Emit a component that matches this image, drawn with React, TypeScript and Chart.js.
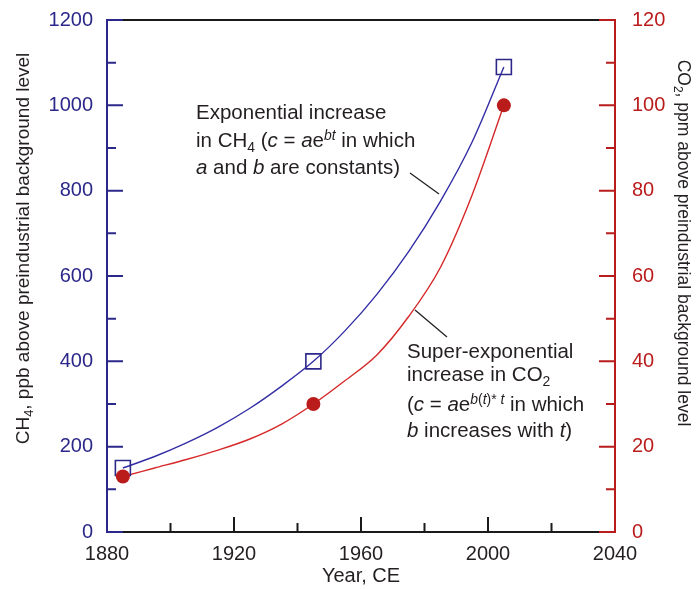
import React, { useEffect, useRef } from 'react';
import { Chart, registerables } from 'chart.js';
Chart.register(...registerables);

const FAMILY = '"Liberation Sans", Arial, Helvetica, sans-serif';
const BLUE = 'rgb(44,40,138)';
const RED = 'rgb(186,28,28)';
const BLUE_LINE = 'rgb(52,46,165)';
const RED_LINE = 'rgb(214,40,40)';
const TEXT = '#231f20';

// measured samples
const sampleYears = [1885, 1945, 2005];
const ch4Samples = [150, 400, 1090];
const co2Samples = [13, 30, 100];

// fitted curves
const curveYears = [1885, 1895, 1905, 1915, 1925, 1935, 1945, 1955, 1965, 1975, 1985, 1995, 2005];
const ch4Curve = [150, 177, 209, 246, 290, 342, 400, 472, 557, 657, 775, 914, 1090];
const co2Curve = [13, 15, 17, 19.2, 21.8, 25.3, 30, 35.5, 41.5, 50.5, 62, 79, 100];

// axes
const xTicks = [1880, 1900, 1920, 1940, 1960, 1980, 2000, 2020, 2040];
const xLabels = [1880, 1920, 1960, 2000, 2040];
const ch4Ticks = [0, 100, 200, 300, 400, 500, 600, 700, 800, 900, 1000, 1100, 1200];
const ch4Labels = [0, 200, 400, 600, 800, 1000, 1200];
const co2Ticks = [0, 10, 20, 30, 40, 50, 60, 70, 80, 90, 100, 110, 120];
const co2Labels = [0, 20, 40, 60, 80, 100, 120];

type Seg = { t: string; i?: boolean; sub?: boolean; sup?: boolean };

const ann1: Seg[][] = [
  [{ t: 'Exponential increase' }],
  [{ t: 'in CH' }, { t: '4', sub: true }, { t: ' (' }, { t: 'c', i: true }, { t: ' = ' }, { t: 'a', i: true }, { t: 'e' }, { t: 'bt', i: true, sup: true }, { t: ' in which' }],
  [{ t: 'a', i: true }, { t: ' and ' }, { t: 'b', i: true }, { t: ' are constants)' }],
];
const ann2: Seg[][] = [
  [{ t: 'Super-exponential' }],
  [{ t: 'increase in CO' }, { t: '2', sub: true }],
  [{ t: '(' }, { t: 'c', i: true }, { t: ' = ' }, { t: 'a', i: true }, { t: 'e' }, { t: 'b', i: true, sup: true }, { t: '(', sup: true }, { t: 't', i: true, sup: true }, { t: ')', sup: true }, { t: '* ', sup: true }, { t: 't', i: true, sup: true }, { t: ' in which' }],
  [{ t: 'b', i: true }, { t: ' increases with ' }, { t: 't', i: true }, { t: ')' }],
];
const leftTitle: Seg[] = [{ t: 'CH' }, { t: '4', sub: true }, { t: ', ppb above preindustrial background level' }];
const rightTitle: Seg[] = [{ t: 'CO' }, { t: '2', sub: true }, { t: ', ppm above preindustrial background level' }];

function segFont(s: Seg, size: number) {
  const sz = s.sub || s.sup ? size * 0.68 : size;
  return `${s.i ? 'italic ' : ''}${sz}px ${FAMILY}`;
}
function richWidth(ctx: CanvasRenderingContext2D, segs: Seg[], size: number) {
  let w = 0;
  for (const s of segs) {
    ctx.font = segFont(s, size);
    w += ctx.measureText(s.t).width;
  }
  return w;
}
function drawRich(ctx: CanvasRenderingContext2D, segs: Seg[], x: number, y: number, size: number, color: string, center = false) {
  ctx.save();
  ctx.fillStyle = color;
  ctx.textBaseline = 'alphabetic';
  ctx.textAlign = 'left';
  let cx = center ? x - richWidth(ctx, segs, size) / 2 : x;
  for (const s of segs) {
    ctx.font = segFont(s, size);
    const dy = s.sub ? size * 0.22 : s.sup ? -size * 0.36 : 0;
    ctx.fillText(s.t, cx, y + dy);
    cx += ctx.measureText(s.t).width;
  }
  ctx.restore();
}

const decor = {
  id: 'decor',
  beforeDatasetsDraw(chart: any) {
    const ctx: CanvasRenderingContext2D = chart.ctx;
    const { left, right, top, bottom } = chart.chartArea;
    const xs = chart.scales.x;
    const ys = chart.scales.y;
    const y1 = chart.scales.y1;
    ctx.save();
    ctx.lineWidth = 2;
    ctx.lineCap = 'butt';
    ctx.strokeStyle = '#1a1a1a';
    ctx.beginPath();
    ctx.moveTo(left, top);
    ctx.lineTo(right, top);
    ctx.moveTo(left, bottom);
    ctx.lineTo(right, bottom);
    ctx.stroke();
    ctx.beginPath();
    for (const v of xTicks) {
      const px = xs.getPixelForValue(v);
      const len = xLabels.includes(v) ? 15 : 9;
      ctx.moveTo(px, bottom);
      ctx.lineTo(px, bottom - len);
    }
    ctx.stroke();
    ctx.strokeStyle = BLUE;
    ctx.beginPath();
    ctx.moveTo(left, top - 1);
    ctx.lineTo(left, bottom + 1);
    for (const v of ch4Ticks) {
      const py = ys.getPixelForValue(v);
      const len = ch4Labels.includes(v) ? 16 : 9;
      ctx.moveTo(left, py);
      ctx.lineTo(left + len, py);
    }
    ctx.stroke();
    ctx.strokeStyle = RED;
    ctx.beginPath();
    ctx.moveTo(right, top - 1);
    ctx.lineTo(right, bottom + 1);
    for (const v of co2Ticks) {
      const py = y1.getPixelForValue(v);
      const len = co2Labels.includes(v) ? 16 : 9;
      ctx.moveTo(right, py);
      ctx.lineTo(right - len, py);
    }
    ctx.stroke();
    ctx.restore();
  },
  afterDraw(chart: any) {
    const ctx: CanvasRenderingContext2D = chart.ctx;
    const { left, right, top, bottom } = chart.chartArea;
    const midX = (left + right) / 2;
    drawRich(ctx, [{ t: 'Year, CE' }], midX, bottom + 50, 20, TEXT, true);
    ctx.save();
    ctx.translate(left - 78, top + 228.5);
    ctx.rotate(-Math.PI / 2);
    drawRich(ctx, leftTitle, 0, 0, 19, TEXT, true);
    ctx.restore();
    ctx.save();
    ctx.translate(right + 62.5, top + 223);
    ctx.rotate(Math.PI / 2);
    drawRich(ctx, rightTitle, 0, 0, 17.5, TEXT, true);
    ctx.restore();
    const a1x = left + 89;
    const a1y = [top + 99.3, top + 127.3, top + 154];
    ann1.forEach((line, k) => drawRich(ctx, line, a1x, a1y[k], 20.5, TEXT));
    const a2x = left + 300;
    const a2y = [top + 337.5, top + 361, top + 391, top + 417];
    ann2.forEach((line, k) => drawRich(ctx, line, a2x, a2y[k], 20.5, TEXT));
    ctx.save();
    ctx.strokeStyle = '#222';
    ctx.lineWidth = 1.3;
    ctx.beginPath();
    ctx.moveTo(left + 303, top + 153);
    ctx.lineTo(left + 332, top + 174);
    ctx.moveTo(left + 308, top + 290);
    ctx.lineTo(left + 340, top + 317);
    ctx.stroke();
    ctx.restore();
  },
};

export default function App() {
  const ref = useRef<HTMLCanvasElement>(null);
  useEffect(() => {
    document.body.style.margin = '0';
    const canvas = ref.current!;
    const tickFont = { family: FAMILY, size: 20 };
    const fitY = (w: number) => (s: any) => {
      s.width = w;
      s.paddingTop = 0;
      s.paddingBottom = 0;
    };
    const chart = new Chart(canvas, {
      type: 'line',
      data: {
        datasets: [
          {
            label: 'CO2 samples',
            data: sampleYears.map((x, i) => ({ x, y: co2Samples[i] })),
            yAxisID: 'y1',
            showLine: false,
            pointStyle: 'circle',
            pointRadius: 7,
            pointBackgroundColor: RED,
            pointBorderColor: RED,
            pointBorderWidth: 0,
          },
          {
            label: 'CH4 samples',
            data: sampleYears.map((x, i) => ({ x, y: ch4Samples[i] })),
            yAxisID: 'y',
            showLine: false,
            pointStyle: 'rect',
            pointRadius: 10.6,
            pointBackgroundColor: 'rgba(0,0,0,0)',
            pointBorderColor: BLUE,
            pointBorderWidth: 1.6,
          },
          {
            label: 'CO2 fit',
            data: curveYears.map((x, i) => ({ x, y: co2Curve[i] })),
            yAxisID: 'y1',
            borderColor: RED_LINE,
            borderWidth: 1.4,
            pointRadius: 0,
            cubicInterpolationMode: 'monotone',
            fill: false,
          },
          {
            label: 'CH4 fit',
            data: curveYears.map((x, i) => ({ x, y: ch4Curve[i] })),
            yAxisID: 'y',
            borderColor: BLUE_LINE,
            borderWidth: 1.4,
            pointRadius: 0,
            cubicInterpolationMode: 'monotone',
            fill: false,
          },
        ],
      },
      options: {
        responsive: false,
        animation: false,
        devicePixelRatio: 1,
        layout: { padding: { top: 20, left: 0, right: 0, bottom: 0 } },
        plugins: { legend: { display: false }, tooltip: { enabled: false } },
        scales: {
          x: {
            type: 'linear',
            min: 1880,
            max: 2040,
            afterBuildTicks: (s: any) => { s.ticks = xTicks.map((v) => ({ value: v })); },
            afterFit: (s: any) => { s.height = 57; s.paddingLeft = 0; s.paddingRight = 0; },
            grid: { display: false, drawTicks: false },
            border: { display: false },
            ticks: {
              autoSkip: false,
              maxRotation: 0,
              padding: 10,
              color: TEXT,
              font: tickFont,
              callback: (v: any) => (xLabels.includes(Number(v)) ? String(v) : ''),
            },
          },
          y: {
            type: 'linear',
            position: 'left',
            min: 0,
            max: 1200,
            afterBuildTicks: (s: any) => { s.ticks = ch4Ticks.map((v) => ({ value: v })); },
            afterFit: fitY(107),
            grid: { display: false, drawTicks: false },
            border: { display: false },
            ticks: {
              autoSkip: false,
              padding: 14,
              color: BLUE,
              font: tickFont,
              callback: (v: any) => (ch4Labels.includes(Number(v)) ? String(v) : ''),
            },
          },
          y1: {
            type: 'linear',
            position: 'right',
            min: 0,
            max: 120,
            afterBuildTicks: (s: any) => { s.ticks = co2Ticks.map((v) => ({ value: v })); },
            afterFit: fitY(82),
            grid: { display: false, drawTicks: false },
            border: { display: false },
            ticks: {
              autoSkip: false,
              padding: 17,
              color: RED,
              font: tickFont,
              callback: (v: any) => (co2Labels.includes(Number(v)) ? String(v) : ''),
            },
          },
        },
      },
      plugins: [decor],
    } as any);
    return () => chart.destroy();
  }, []);
  return (
    <div style={{ position: 'fixed', left: 0, top: 0, width: 697, height: 589, background: '#fff' }}>
      <canvas ref={ref} width={697} height={589} style={{ display: 'block', width: 697, height: 589 }} />
    </div>
  );
}
